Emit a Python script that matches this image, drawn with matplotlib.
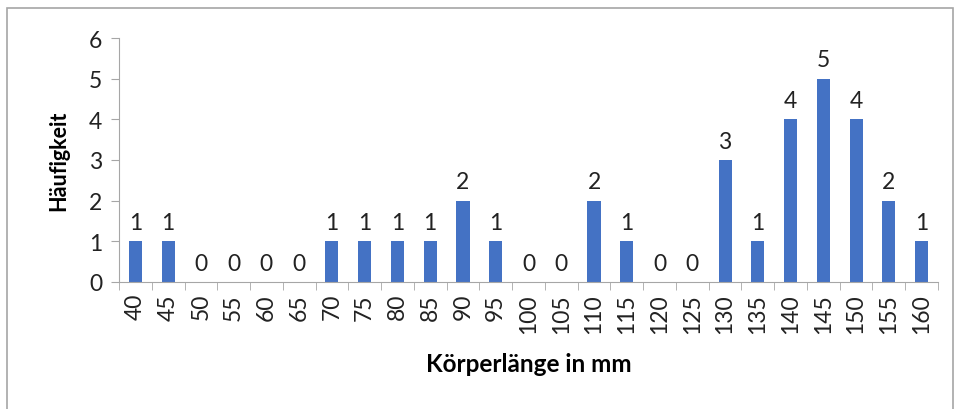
import matplotlib.pyplot as plt
import matplotlib.patches as mpatches
import numpy as np

plt.rcParams['font.family'] = ['Lato', 'DejaVu Sans']

# Körperlänge-Klassen (mm) und Häufigkeiten
laengen = [40, 45, 50, 55, 60, 65, 70, 75, 80, 85, 90, 95, 100, 105,
           110, 115, 120, 125, 130, 135, 140, 145, 150, 155, 160]
haeufigkeit = [1, 1, 0, 0, 0, 0, 1, 1, 1, 1, 2, 1, 0, 0,
               2, 1, 0, 0, 3, 1, 4, 5, 4, 2, 1]

W, H = 956, 410
fig = plt.figure(figsize=(W / 100, H / 100), dpi=100)
ax = fig.add_axes([119 / W, 1 - 283 / H, (938 - 119) / W, (283 - 39) / H])

x = np.arange(len(laengen))
bars = ax.bar(x, haeufigkeit, width=0.4, color='#4472C4')

for xi, v in zip(x, haeufigkeit):
    ax.annotate(str(v), (xi, v), xytext=(0, 6), textcoords='offset points',
                ha='center', va='bottom', fontsize=16.5, color='#222222')

ax.set_xlim(-0.5, len(laengen) - 0.5)
ax.set_ylim(0, 6)
ax.set_yticks(range(0, 7))
ax.set_xticks(x)
ax.set_xticklabels([str(l) for l in laengen], rotation=90)
ax.set_xticks(np.arange(-0.5, len(laengen)), minor=True)
ax.tick_params(axis='x', which='major', length=0, pad=8, labelsize=16.5,
               labelcolor='#222222')
ax.tick_params(axis='x', which='minor', length=6, color='#A6A6A6')
ax.tick_params(axis='y', length=6, color='#A6A6A6', pad=6, labelsize=16.5,
               labelcolor='#222222')

for s in ['top', 'right']:
    ax.spines[s].set_visible(False)
for s in ['left', 'bottom']:
    ax.spines[s].set_color('#A6A6A6')

ax.set_xlabel('Körperlänge in mm', fontsize=17.5, fontweight='bold', labelpad=14)
ax.set_ylabel('Häufigkeit', fontsize=15.5, fontweight='bold', labelpad=14)

# Rahmen um das Diagramm
fig.patches.append(mpatches.Rectangle((7 / W, -0.05), (953 - 7) / W, 1.05 - 9 / H,
                                      transform=fig.transFigure, fill=False,
                                      edgecolor='#A6A6A6', linewidth=1.2))

fig.savefig('out.png', dpi=100)
